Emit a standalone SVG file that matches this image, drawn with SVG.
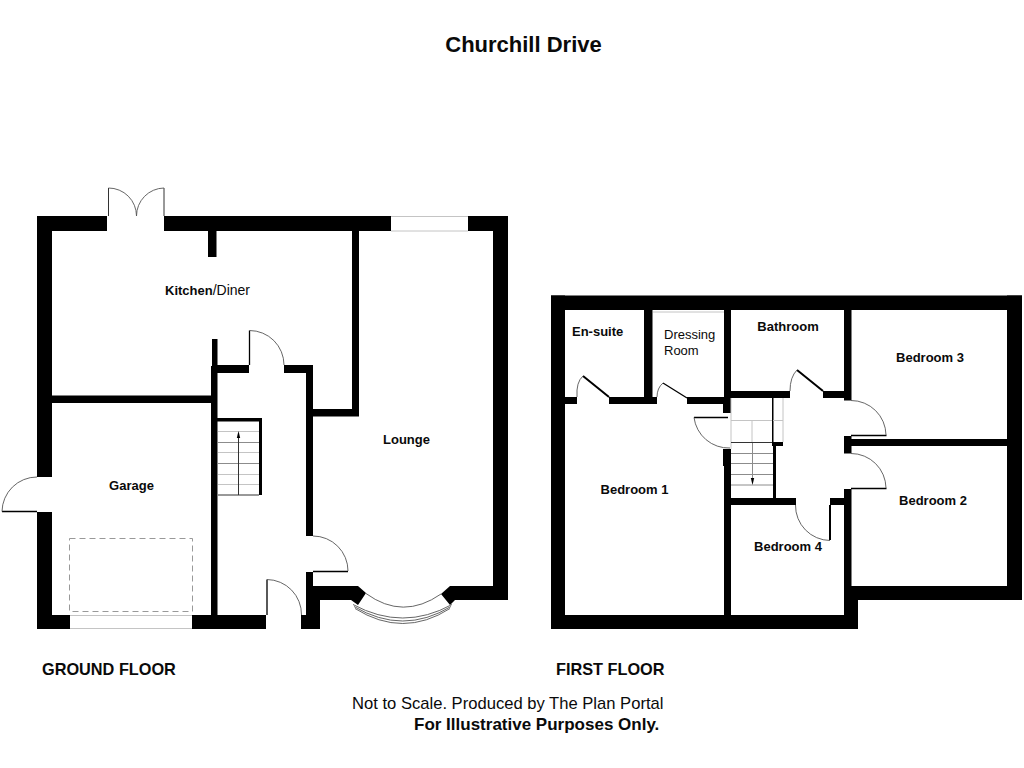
<svg xmlns="http://www.w3.org/2000/svg" width="1024" height="768" viewBox="0 0 1024 768">
<style>
text{font-family:"Liberation Sans",Arial,sans-serif;fill:#0a0a0a}
.b{font-weight:700}
.room{font-size:13px;font-weight:700}
.reg{font-size:13px}
.w{fill:#000}
.g{fill:none;stroke:#c4c4c4;stroke-width:1}
.m{fill:none;stroke:#8c8c8c;stroke-width:1}
.k{fill:none;stroke:#333;stroke-width:1}
.arc{fill:none;stroke:#555;stroke-width:.9}
.leaf{fill:none;stroke:#000;stroke-width:1.3}
.leaf2{fill:none;stroke:#000;stroke-width:2}
</style>
<rect width="1024" height="768" fill="#fff"/>
<text class="b" x="523.500" y="52" font-size="22" text-anchor="middle">Churchill Drive</text>

<g id="ground-floor">
<g id="ground-walls" class="w">
<rect x="37" y="216" width="15" height="261"/>
<rect x="37" y="512" width="15" height="117"/>
<rect x="37" y="216" width="70" height="15"/>
<rect x="164" y="216" width="227" height="15"/>
<rect x="468" y="216" width="40" height="15"/>
<rect x="493" y="216" width="15" height="384"/>
<rect x="208" y="231" width="8.500" height="26"/>
<rect x="352" y="231" width="7" height="185"/>
<rect x="313" y="409" width="46" height="7.500"/>
<rect x="52" y="395.500" width="159" height="7.500"/>
<rect x="212" y="339" width="5.500" height="30"/>
<rect x="211" y="366" width="6.500" height="263"/>
<rect x="217" y="365" width="32" height="8"/>
<rect x="284" y="365" width="29" height="8"/>
<rect x="306" y="365" width="7" height="171"/>
<rect x="306" y="572" width="7" height="43"/>
<rect x="301" y="615" width="19" height="14"/>
<rect x="313" y="586" width="7" height="30"/>
<rect x="313" y="586" width="45" height="14"/>
<rect x="450" y="586" width="58" height="14"/>
<rect x="37" y="615" width="33" height="14"/>
<rect x="192" y="615" width="74" height="14"/>
<path d="M345 216h14v15h-14zM358 586L366 593L358 605L351 600ZM450 586L441 594L450 605L455 600Z"/>
<rect x="217" y="418" width="45" height="3.500"/>
<rect x="259" y="418" width="3" height="77"/>
</g>
<g id="ground-fittings">
<path class="g" d="M391 216.500H468M391 231H468M70 615.500H192M70 628.500H192M218 431.500H259M218 452.500H259M218 474.500H259M218 484.500H259"/>
<path class="m" d="M218 442.500H259M218 463.500H259"/>
<path class="k" d="M218 495H259M238.500 495V437"/>
<path d="M238.500 431L236.800 438H240.200Z"/>
<rect x="69.500" y="538.500" width="123" height="73" fill="none" stroke="#999" stroke-width="1" stroke-dasharray="6 4"/>
<path class="k" d="M108.500 216V188M164 216V188"/>
<path class="arc" d="M108.500 188A28 28 0 0 1 136.500 216M164 188A28 28 0 0 0 136.500 216"/>
<path class="leaf" d="M249.500 365V330.500M37 511.500H2M267 615V579.500M313 571.500H348"/>
<path class="arc" d="M249.500 330.500A34.500 34.500 0 0 1 284 365M37 477A35 35 0 0 0 2 511.500M267 579.500A35 35 0 0 1 301.500 615M313 536A35 35 0 0 1 348 571"/>
<path class="arc" d="M366 593.500Q403 620.500 441 594M353 604.500Q403 631.500 452 604.500M354 606.500Q403 635.500 451 606.500M355 608.500Q403 638.500 450 608.500"/>
</g>
<g class="labels">
<text x="165" y="294.500" font-size="13"><tspan class="b">Kitchen</tspan><tspan font-size="14">/Diner</tspan></text>
<text class="room" x="406.500" y="444" text-anchor="middle">Lounge</text>
<text class="room" x="131.500" y="490" text-anchor="middle">Garage</text>
</g>
</g>

<g id="first-floor">
<g id="first-walls" class="w">
<rect x="551" y="295.500" width="471" height="14.500"/>
<rect x="551" y="295.500" width="14" height="333.500"/>
<rect x="1007" y="295.500" width="15" height="304.500"/>
<rect x="851" y="586" width="171" height="14"/>
<rect x="551" y="615" width="307" height="14"/>
<rect x="851" y="586" width="7" height="43"/>
<rect x="644" y="310" width="8.500" height="94"/>
<rect x="724" y="310" width="7" height="103"/>
<rect x="723" y="398" width="8" height="15"/>
<rect x="723" y="449" width="8" height="17"/>
<rect x="724" y="449" width="7" height="166"/>
<rect x="565" y="397" width="12" height="7"/>
<rect x="609" y="397" width="48" height="7"/>
<rect x="687" y="397" width="37" height="7"/>
<rect x="731" y="391" width="59" height="7"/>
<rect x="823" y="391" width="21" height="7"/>
<rect x="844" y="310" width="7.500" height="90.500"/>
<rect x="844" y="436" width="7.500" height="17.500"/>
<rect x="844" y="489" width="7.500" height="126"/>
<rect x="851" y="439" width="156" height="7"/>
<rect x="731" y="498" width="65" height="7"/>
<rect x="830" y="498" width="14" height="7"/>
<rect x="772" y="442" width="11" height="4"/>
<rect x="773" y="446" width="3" height="52"/>
<rect x="772" y="398" width="1.500" height="44"/>
</g>
<g id="first-fittings">
<path class="g" d="M731 398V449M783 398V442M731 420.500H772M752 420.500V442M773 420.500H783"/>
<path class="m" d="M731 453.500H773M731 463.500H773M731 474.500H773M731 485H773M752.500 442V480"/>
<path class="k" d="M731 442.500H772"/>
<path d="M752.500 485L750.800 478H754.200Z"/>
<path class="g" d="M653 312H724"/>
<path class="leaf2" d="M609 397L583 376M823 391L797 370M830 505V540"/>
<path class="leaf" d="M687 398L663 383M694 417.500H728M851 435.500H886.500M851 488.500H886.500"/>
<path class="arc" d="M583 376Q576 382 577 397M663 383Q657 388 657 397M797 370Q790 377 790 391M694 417.500A35 35 0 0 0 730 448M851 400.500A35 35 0 0 1 886 435M851 453.500A35 35 0 0 1 886 488M795.500 505A35 35 0 0 0 830 540.500"/>
</g>
<g class="labels">
<text class="room" x="572" y="336">En-suite</text>
<text class="reg" x="664" y="339">Dressing</text>
<text class="reg" x="664" y="355">Room</text>
<text class="room" x="788" y="331" text-anchor="middle">Bathroom</text>
<text class="room" x="930" y="362" text-anchor="middle">Bedroom 3</text>
<text class="room" x="634.500" y="494" text-anchor="middle">Bedroom 1</text>
<text class="room" x="933" y="505" text-anchor="middle">Bedroom 2</text>
<text class="room" x="788" y="551" text-anchor="middle">Bedroom 4</text>
</g>
</g>

<g id="captions">
<text class="b" x="42" y="675" font-size="16.300">GROUND FLOOR</text>
<text class="b" x="556" y="675" font-size="16.300">FIRST FLOOR</text>
<text x="352" y="709" font-size="16.600">Not to Scale. Produced by The Plan Portal</text>
<text class="b" x="414" y="730" font-size="17">For Illustrative Purposes Only.</text>
</g>
</svg>
